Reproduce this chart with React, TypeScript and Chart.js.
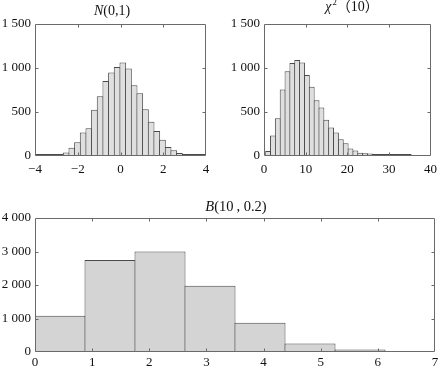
import React, { useEffect, useRef } from "react";
import { Chart, registerables } from "chart.js";

Chart.register(...registerables);

// ---------- data ----------
const normCenters = [
  -3.868, -3.603, -3.338, -3.073, -2.808, -2.543, -2.278, -2.013, -1.748, -1.483,
  -1.218, -0.953, -0.688, -0.423, -0.158, 0.108, 0.373, 0.638, 0.903, 1.168,
  1.433, 1.698, 1.963, 2.228, 2.493, 2.758, 3.023, 3.288, 3.553, 3.818,
];
const normCounts = [
  3, 4, 5, 13, 24, 39, 95, 155, 268, 314,
  525, 680, 852, 948, 1012, 1062, 993, 803, 712, 530,
  390, 285, 185, 102, 64, 33, 20, 10, 6, 5,
];

const chiCenters = [
  0.983, 2.148, 3.313, 4.478, 5.643, 6.808, 7.973, 9.138, 10.303, 11.468,
  12.633, 13.798, 14.963, 16.128, 17.293, 18.458, 19.623, 20.788, 21.953, 23.118,
  24.283, 25.448, 26.613, 27.778, 28.943, 30.108, 31.273, 32.438, 33.603, 34.768,
];
const chiCounts = [
  56, 233, 428, 755, 962, 1058, 1090, 1062, 921, 788,
  634, 550, 412, 323, 266, 190, 145, 86, 62, 38,
  30, 28, 18, 8, 5, 4, 3, 3, 2, 3,
];

const binoCenters = [0.4375, 1.3125, 2.1875, 3.0625, 3.9375, 4.8125, 5.6875, 6.5625];
const binoCounts = [1080, 2750, 3000, 1975, 870, 252, 75, 0];

const normXTicks = { min: -4, max: 4, step: 2 };
const normYTicks = { min: 0, max: 1500, step: 500 };
const chiXTicks = { min: 0, max: 40, step: 10 };
const chiYTicks = { min: 0, max: 1500, step: 500 };
const binoXTicks = { min: 0, max: 7, step: 1 };
const binoYTicks = { min: 0, max: 4000, step: 1000 };

type Seg = { t: string; italic?: boolean; sup?: boolean };
const normTitle: Seg[] = [{ t: "N", italic: true }, { t: "(0,1)" }];
const chiTitle: Seg[] = [{ t: "χ", italic: true }, { t: "2", sup: true }, { t: "（10）" }];
const binoTitle: Seg[] = [{ t: "B", italic: true }, { t: "(10\u2009, 0.2)" }];

// ---------- helpers ----------
const SERIF = "'Liberation Serif', 'Times New Roman', 'Noto Sans CJK SC', serif";

function fmt(v: number): string {
  const a = Math.abs(v);
  const s = a >= 1000 ? `${Math.floor(a / 1000)} ${String(a % 1000).padStart(3, "0")}` : String(a);
  return (v < 0 ? "\u2212" : "") + s;
}

function titlePlugin(segs: Seg[], cx: number, baseline: number, size: number) {
  return {
    id: "richTitle",
    afterDraw(chart: any) {
      const ctx: CanvasRenderingContext2D = chart.ctx;
      ctx.save();
      ctx.fillStyle = "#111";
      ctx.textBaseline = "alphabetic";
      ctx.textAlign = "left";
      const font = (s: Seg) => `${s.italic ? "italic " : ""}${s.sup ? size * 0.62 : size}px ${SERIF}`;
      let total = 0;
      const widths = segs.map((s) => {
        ctx.font = font(s);
        const w = ctx.measureText(s.t).width + (s.sup ? 1 : 0);
        total += w;
        return w;
      });
      let x = cx - total / 2;
      segs.forEach((s, i) => {
        ctx.font = font(s);
        ctx.fillText(s.t, x + (s.sup ? 1 : 0), baseline - (s.sup ? size * 0.42 : 0));
        x += widths[i];
      });
      ctx.restore();
    },
  };
}

const framePlugin = {
  id: "frameTicks",
  afterDatasetsDraw(chart: any) {
    const { ctx, chartArea: a, scales } = chart;
    const len = 3;
    ctx.save();
    ctx.strokeStyle = "#6a6a6a";
    ctx.lineWidth = 1;
    ctx.beginPath();
    const L = Math.round(a.left) + 0.5;
    const R = Math.round(a.right) - 0.5;
    const T = Math.round(a.top) + 0.5;
    const B = Math.round(a.bottom) - 0.5;
    ctx.rect(L, T, R - L, B - T);
    for (const t of scales.x.ticks) {
      const p = Math.round(scales.x.getPixelForValue(t.value)) + 0.5;
      if (p <= L + 1 || p >= R - 1) continue;
      ctx.moveTo(p, B);
      ctx.lineTo(p, B - len);
      ctx.moveTo(p, T);
      ctx.lineTo(p, T + len);
    }
    for (const t of scales.y.ticks) {
      const p = Math.round(scales.y.getPixelForValue(t.value)) + 0.5;
      if (p <= T + 1 || p >= B - 1) continue;
      ctx.moveTo(L, p);
      ctx.lineTo(L + len, p);
      ctx.moveTo(R, p);
      ctx.lineTo(R - len, p);
    }
    ctx.stroke();
    ctx.restore();
  },
};

type HistProps = {
  left: number;
  top: number;
  width: number;
  height: number;
  centers: number[];
  counts: number[];
  xt: { min: number; max: number; step: number };
  yt: { min: number; max: number; step: number };
  padTop: number;
  padRight: number;
  yWidth: number;
  xHeight: number;
  xPad: number;
  yPad: number;
  fill: string;
  barPct: number;
  minBar?: number;
  title: Seg[];
  titleX: number;
  titleY: number;
  titleSize: number;
};

function Hist(p: HistProps) {
  const ref = useRef<HTMLCanvasElement | null>(null);
  useEffect(() => {
    if (!ref.current) return;
    const tickFont = { family: SERIF, size: 13 };
    const chart = new Chart(ref.current, {
      type: "bar",
      data: {
        datasets: [
          {
            data: p.centers.map((c, i) => ({ x: c, y: p.counts[i] })),
            backgroundColor: p.fill,
            borderColor: "#4a4a4a",
            borderWidth: 1,
            borderSkipped: "start",
            barPercentage: p.barPct,
            categoryPercentage: 1,
            minBarLength: p.minBar,
          } as any,
        ],
      },
      options: {
        animation: false,
        responsive: false,
        devicePixelRatio: 1,
        layout: { padding: { top: p.padTop, right: p.padRight, left: 0, bottom: 0 } },
        plugins: { legend: { display: false }, tooltip: { enabled: false }, title: { display: false } },
        scales: {
          x: {
            type: "linear",
            offset: false,
            min: p.xt.min,
            max: p.xt.max,
            grid: { display: false, drawTicks: false, offset: false },
            border: { display: false },
            ticks: {
              stepSize: p.xt.step,
              autoSkip: false,
              maxRotation: 0,
              padding: p.xPad,
              color: "#111",
              font: tickFont,
              callback: (v: any) => fmt(Number(v)),
            },
            afterFit: (s: any) => {
              s.height = p.xHeight;
            },
          },
          y: {
            type: "linear",
            min: p.yt.min,
            max: p.yt.max,
            grid: { display: false, drawTicks: false },
            border: { display: false },
            ticks: {
              stepSize: p.yt.step,
              padding: p.yPad,
              color: "#111",
              font: tickFont,
              callback: (v: any) => fmt(Number(v)),
            },
            afterFit: (s: any) => {
              s.width = p.yWidth;
            },
          },
        },
      } as any,
      plugins: [framePlugin, titlePlugin(p.title, p.titleX, p.titleY, p.titleSize)],
    });
    return () => chart.destroy();
  }, []);
  return (
    <div style={{ position: "absolute", left: p.left, top: p.top, width: p.width, height: p.height }}>
      <canvas ref={ref} width={p.width} height={p.height} style={{ width: p.width, height: p.height, display: "block" }} />
    </div>
  );
}

export default function App() {
  useEffect(() => {
    document.body.style.margin = "0";
    document.body.style.overflow = "hidden";
  }, []);
  return (
    <div style={{ position: "absolute", left: 0, top: 0, width: 443, height: 368, background: "#fff", overflow: "hidden" }}>
      <Hist
        left={0}
        top={0}
        width={221}
        height={180}
        centers={normCenters}
        counts={normCounts}
        xt={normXTicks}
        yt={normYTicks}
        padTop={24}
        padRight={15}
        yWidth={35}
        xHeight={24}
        xPad={6}
        yPad={4}
        fill="#dfdfdf"
        barPct={1.18}
        minBar={2}
        title={normTitle}
        titleX={112}
        titleY={15}
        titleSize={14}
      />
      <Hist
        left={221}
        top={0}
        width={222}
        height={180}
        centers={chiCenters}
        counts={chiCounts}
        xt={chiXTicks}
        yt={chiYTicks}
        padTop={24}
        padRight={8}
        yWidth={43}
        xHeight={24}
        xPad={6}
        yPad={4}
        fill="#dfdfdf"
        barPct={1.2}
        minBar={2}
        title={chiTitle}
        titleX={131}
        titleY={11}
        titleSize={14}
      />
      <Hist
        left={0}
        top={180}
        width={443}
        height={188}
        centers={binoCenters}
        counts={binoCounts}
        xt={binoXTicks}
        yt={binoYTicks}
        padTop={38}
        padRight={8}
        yWidth={35}
        xHeight={16}
        xPad={3}
        yPad={4}
        fill="#d4d4d4"
        barPct={1.02}
        title={binoTitle}
        titleX={236}
        titleY={31}
        titleSize={14.5}
      />
    </div>
  );
}
